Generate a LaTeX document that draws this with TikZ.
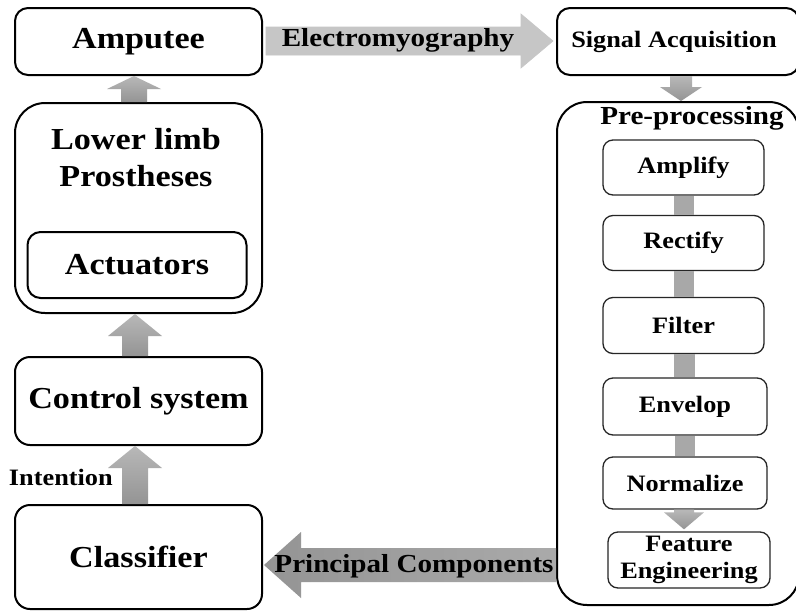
\documentclass[tikz,border=0pt]{standalone}
\usepackage{fontspec}
\setmainfont{Liberation Serif}[FakeStretch=1.12]
\usetikzlibrary{calc}
\definecolor{arrlight}{RGB}{198,198,198}
\definecolor{arrtop}{RGB}{184,184,184}
\definecolor{arrbot}{RGB}{148,148,148}
\definecolor{barcol}{RGB}{168,168,168}
\definecolor{pcacol}{RGB}{170,170,170}
\begin{document}
\begin{tikzpicture}[x=1pt,y=-1pt,
  box/.style={draw=black,line width=2pt,rounded corners=13pt,fill=white,inner sep=0pt},
  bigbox/.style={draw=black,line width=2pt,rounded corners=30pt,fill=white,inner sep=0pt},
  ibox/.style={draw=black!85,line width=1.3pt,rounded corners=10pt,fill=white,inner sep=0pt},
  fbig/.style={font=\fontsize{30.5}{37}\selectfont\bfseries},
  fmid/.style={font=\fontsize{26}{30}\selectfont\bfseries},
  fsm/.style={font=\fontsize{23.5}{27}\selectfont\bfseries},
  varrow/.style={top color=arrtop,bottom color=arrbot},
  emgarrow/.style={fill=arrlight,draw=gray!45,line width=0.6pt},
  pcaarrow/.style={left color=arrbot,right color=pcacol},
  barfill/.style={fill=barcol},
  txt/.style={inner sep=0pt,align=center}
]
\useasboundingbox (0,0) rectangle (796,611);
\clip (0,0) rectangle (796,611);
\fill[white] (0,0) rectangle (796,611);

% left column
\node[box,minimum width=247pt,minimum height=67pt,fbig] (amp) at (138.5,41.5) {Amputee};
\node[bigbox,minimum width=247pt,minimum height=210pt] (limb) at (138.5,208) {};
\node[txt,fbig] (limbtxt) at (136,158) {Lower limb\\Prostheses};
\node[box,minimum width=219pt,minimum height=66pt,fbig] (act) at (137,265) {Actuators};
\node[box,minimum width=247pt,minimum height=88pt,rounded corners=15pt,fbig] (ctrl) at (138.5,401) {Control system};
\node[box,minimum width=247pt,minimum height=104pt,rounded corners=15pt,fbig] (cls) at (138.5,557) {Classifier};

% right column
\node[box,minimum width=242pt,minimum height=67pt,fsm] (sig) at (678,41.5) {Signal Acquisition\hspace*{8pt}};
\node[bigbox,minimum width=242pt,minimum height=503pt] (pre) at (678,353.5) {};
\node[txt,fmid] (pretxt) at (692,118) {Pre-processing};
\node[ibox,minimum width=161pt,minimum height=55pt,fsm] (ampl) at (683.5,167.5) {Amplify};
\node[ibox,minimum width=161pt,minimum height=55pt,fsm] (rect) at (683.5,243) {Rectify};
\node[ibox,minimum width=161pt,minimum height=56pt,fsm] (filt) at (683.5,325.5) {Filter};
\node[ibox,minimum width=164pt,minimum height=57pt,fsm] (env) at (685,406.5) {Envelop};
\node[ibox,minimum width=164pt,minimum height=52pt,fsm] (norm) at (685,483) {Normalize};
\node[ibox,minimum width=162pt,minimum height=56pt,align=center,fsm] (feat) at (689,560) {Feature\\Engineering};

% bars between pre-processing steps
\fill[barfill] ($(ampl.south)+(-10,0)$) rectangle ($(rect.north)+(10,0)$);
\fill[barfill] ($(rect.south)+(-10,0)$) rectangle ($(filt.north)+(10,0)$);
\fill[barfill] ($(filt.south)+(-10,0)$) rectangle ($(env.north)+(10,0)$);
\fill[barfill] ($(env.south)+(-10,0)$) rectangle ($(norm.north)+(10,0)$);
% normalize -> feature engineering
\path[varrow] let \p1=(norm.south), \p2=(feat.north) in
  (674pt,\y1) -- (674pt,\y2+19pt) -- (664pt,\y2+19pt) -- (684pt,\y2+2pt) --
  (704pt,\y2+19pt) -- (694pt,\y2+19pt) -- (694pt,\y1) -- cycle;
% signal -> pre-processing
\path[varrow] let \p1=(sig.south), \p2=(pre.north) in
  (670pt,\y1) -- (670pt,\y2+14pt) -- (660pt,\y2+14pt) -- (681pt,\y2) --
  (702pt,\y2+14pt) -- (692pt,\y2+14pt) -- (692pt,\y1) -- cycle;

% upward arrows on the left
\path[varrow] let \p1=(limb.north), \p2=(amp.south) in
  (121pt,\y1) -- (121pt,\y2-13pt) -- (107pt,\y2-13pt) -- (134pt,\y2) --
  (161pt,\y2-13pt) -- (147pt,\y2-13pt) -- (147pt,\y1) -- cycle;
\path[varrow] let \p1=(ctrl.north), \p2=(limb.south) in
  (122pt,\y1) -- (122pt,\y2-22pt) -- (108pt,\y2-22pt) -- (135pt,\y2) --
  (162pt,\y2-22pt) -- (148pt,\y2-22pt) -- (148pt,\y1) -- cycle;
\path[varrow] let \p1=(cls.north), \p2=(ctrl.south) in
  (122pt,\y1) -- (122pt,\y2-22pt) -- (108pt,\y2-22pt) -- (135pt,\y2) --
  (162pt,\y2-22pt) -- (148pt,\y2-22pt) -- (148pt,\y1) -- cycle;
\node[txt,fsm,anchor=east] (intent) at (113,477) {Intention};

% electromyography arrow
\path[emgarrow] let \p1=(amp.east), \p2=(sig.west) in
  (\x1+3pt,-27pt) -- (\x2-35pt,-27pt) -- (\x2-35pt,-14pt) -- (\x2-3pt,-41pt) --
  (\x2-35pt,-68pt) -- (\x2-35pt,-55pt) -- (\x1+3pt,-55pt) -- cycle;
\node[txt,fmid] (emg) at (398,40) {Electromyography};

% principal components arrow
\path[pcaarrow] let \p1=(pre.west), \p2=(cls.east) in
  (\x1,-548pt) -- (\x2+38pt,-548pt) -- (\x2+38pt,-532pt) -- (\x2+1pt,-565pt) --
  (\x2+38pt,-598pt) -- (\x2+38pt,-582pt) -- (\x1,-582pt) -- cycle;
\node[txt,fmid] (pca) at (414,566) {Principal Components};
\end{tikzpicture}
\end{document}
